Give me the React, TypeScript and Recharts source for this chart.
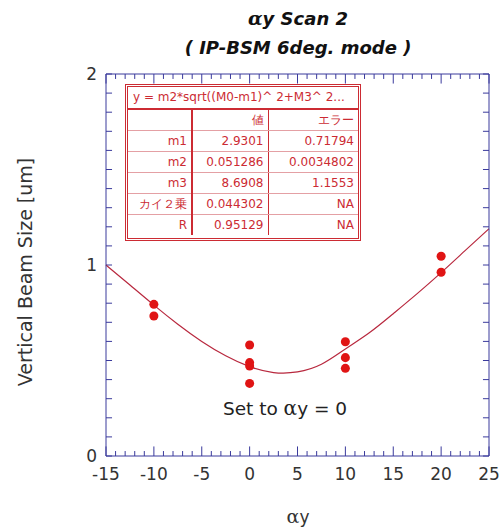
import React from 'react';
import { ComposedChart, XAxis, YAxis, Line, Scatter, ReferenceLine } from 'recharts';

// fitted curve
const CURVE_X = [-15, -12.5, -10, -7.5, -5, -2.5, 0, 2.5, 5, 7.5, 10, 12.5, 15, 17.5, 20, 22.5, 25];
const CURVE_Y = [1.0, 0.895, 0.79, 0.69, 0.6, 0.525, 0.468, 0.437, 0.44, 0.48, 0.56, 0.645, 0.745, 0.85, 0.96, 1.075, 1.19];

// measured points
const SCAN_X = [-10, -10, 0, 0, 0, 0, 10, 10, 10, 20, 20];
const SCAN_Y = [0.794, 0.733, 0.581, 0.489, 0.471, 0.38, 0.598, 0.515, 0.459, 1.046, 0.962];

const X_MAJOR = [-15, -10, -5, 0, 5, 10, 15, 20, 25];
const X_MINOR = Array.from({ length: 41 }, (_, i) => i - 15);
const Y_MAJOR = [0, 1, 2];
const Y_TICKS = Array.from({ length: 21 }, (_, i) => i / 10);

const FIT_FORMULA = 'y = m2*sqrt((M0-m1)^ 2+M3^ 2...';
const COL_HEADERS = ['', '値', 'エラー'];
const PARAM_NAMES = ['m1', 'm2', 'm3', 'カイ２乗', 'R'];
const PARAM_VALUES = ['2.9301', '0.051286', '8.6908', '0.044302', '0.95129'];
const PARAM_ERRORS = ['0.71794', '0.0034802', '1.1553', 'NA', 'NA'];

const curveData = CURVE_X.map((x, i) => ({ x, y: CURVE_Y[i] }));
const scanData = SCAN_X.map((x, i) => ({ x, y: SCAN_Y[i] }));

const AXIS = '#3a3a9c';
const TEXT = '#333';
const RED = '#cc2b33';
const FONT = '"DejaVu Sans", Verdana, sans-serif';
const tickFont = { fill: TEXT, fontSize: 17, fontFamily: FONT };
const noLabel = () => '';

// inward tick lengths, in data units
const X_TICK_MAJOR = 0.05;
const X_TICK_MINOR = 0.026;
const Y_TICK = 0.63;

const cell: React.CSSProperties = {
  textAlign: 'right',
  padding: '0 4px 0 0',
  borderBottom: '1px solid #e4a0a4',
  height: 20,
  lineHeight: '20px',
  whiteSpace: 'nowrap',
};

const FitTable = () => (
  <div
    style={{
      position: 'absolute',
      left: 125,
      top: 84,
      width: 236,
      height: 157,
      boxSizing: 'border-box',
      border: `3px double ${RED}`,
      background: '#fff',
      color: RED,
      fontFamily: FONT,
      fontSize: 12,
    }}
  >
    <div
      style={{
        height: 21,
        lineHeight: '21px',
        paddingLeft: 5,
        borderBottom: `2px solid ${RED}`,
        whiteSpace: 'nowrap',
        overflow: 'hidden',
      }}
    >
      {FIT_FORMULA}
    </div>
    <table style={{ borderCollapse: 'collapse', width: '100%', tableLayout: 'fixed' }}>
      <colgroup>
        <col style={{ width: 64 }} />
        <col style={{ width: 76 }} />
        <col />
      </colgroup>
      <tbody>
        <tr>
          {COL_HEADERS.map((h, i) => (
            <td
              key={i}
              style={{
                ...cell,
                borderRight: i === 0 ? `2px solid ${RED}` : i === 1 ? `1px solid ${RED}` : 'none',
              }}
            >
              {h}
            </td>
          ))}
        </tr>
        {PARAM_NAMES.map((n, r) => (
          <tr key={n}>
            <td style={{ ...cell, borderRight: `2px solid ${RED}`, borderBottom: r === 4 ? 'none' : cell.borderBottom }}>{n}</td>
            <td style={{ ...cell, borderRight: `1px solid ${RED}`, borderBottom: r === 4 ? 'none' : cell.borderBottom }}>{PARAM_VALUES[r]}</td>
            <td style={{ ...cell, borderBottom: r === 4 ? 'none' : cell.borderBottom }}>{PARAM_ERRORS[r]}</td>
          </tr>
        ))}
      </tbody>
    </table>
  </div>
);

const alpha = (size: number) => (
  <span style={{ fontFamily: '"DejaVu Serif", serif', fontSize: size }}>α</span>
);

export default function App() {
  return (
    <div style={{ position: 'absolute', left: 0, top: 0, width: 503, height: 527, background: '#fff', fontFamily: FONT }}>
      <ComposedChart width={503} height={527} margin={{ top: 73, right: 13, bottom: 70, left: 105 }}>
        <XAxis
          xAxisId="b"
          type="number"
          dataKey="x"
          orientation="bottom"
          domain={[-15, 25]}
          ticks={X_MAJOR}
          interval={0}
          height={1}
          tickSize={0}
          tickMargin={12}
          tick={tickFont}
          tickLine={false}
          stroke={AXIS}
        />
        <XAxis
          xAxisId="t"
          type="number"
          dataKey="x"
          orientation="top"
          domain={[-15, 25]}
          ticks={X_MAJOR}
          interval={0}
          height={1}
          tickSize={0}
          tickFormatter={noLabel}
          tickLine={false}
          stroke={AXIS}
        />
        <YAxis
          yAxisId="l"
          type="number"
          dataKey="y"
          orientation="left"
          domain={[0, 2]}
          ticks={Y_MAJOR}
          interval={0}
          width={1}
          tickSize={0}
          tickMargin={9}
          tick={tickFont}
          tickLine={false}
          stroke={AXIS}
        />
        <YAxis
          yAxisId="r"
          type="number"
          dataKey="y"
          orientation="right"
          domain={[0, 2]}
          ticks={Y_MAJOR}
          interval={0}
          width={1}
          tickSize={0}
          tickFormatter={noLabel}
          tickLine={false}
          stroke={AXIS}
        />

        {/* inward ticks on all four sides */}
        {X_MINOR.map((v) => {
          const len = X_MAJOR.includes(v) ? X_TICK_MAJOR : X_TICK_MINOR;
          return (
            <ReferenceLine
              key={`xb${v}`}
              xAxisId="b"
              yAxisId="l"
              segment={[{ x: v, y: 0 }, { x: v, y: len }]}
              stroke={AXIS}
              ifOverflow="visible"
            />
          );
        })}
        {X_MINOR.map((v) => {
          const len = X_MAJOR.includes(v) ? X_TICK_MAJOR : X_TICK_MINOR;
          return (
            <ReferenceLine
              key={`xt${v}`}
              xAxisId="b"
              yAxisId="l"
              segment={[{ x: v, y: 2 }, { x: v, y: 2 - len }]}
              stroke={AXIS}
              ifOverflow="visible"
            />
          );
        })}
        {Y_TICKS.map((v) => (
          <ReferenceLine
            key={`yl${v}`}
            xAxisId="b"
            yAxisId="l"
            segment={[{ x: -15, y: v }, { x: -15 + Y_TICK, y: v }]}
            stroke={AXIS}
            ifOverflow="visible"
          />
        ))}
        {Y_TICKS.map((v) => (
          <ReferenceLine
            key={`yr${v}`}
            xAxisId="b"
            yAxisId="l"
            segment={[{ x: 25, y: v }, { x: 25 - Y_TICK, y: v }]}
            stroke={AXIS}
            ifOverflow="visible"
          />
        ))}

        <Line
          xAxisId="b"
          yAxisId="l"
          data={curveData}
          dataKey="y"
          type="natural"
          stroke="#b8283e"
          strokeWidth={1.2}
          dot={false}
          isAnimationActive={false}
        />
        <Scatter
          xAxisId="t"
          yAxisId="r"
          data={scanData}
          dataKey="y"
          fill="#e01414"
          isAnimationActive={false}
        />
      </ComposedChart>

      <div
        style={{
          position: 'absolute',
          left: 98,
          width: 400,
          top: 4,
          textAlign: 'center',
          fontWeight: 'bold',
          fontStyle: 'italic',
          fontSize: 18,
          lineHeight: '29px',
          color: '#111',
        }}
      >
        <div>{alpha(19)}y Scan 2</div>
        <div>( IP-BSM 6deg. mode )</div>
      </div>

      <FitTable />

      <div
        style={{
          position: 'absolute',
          left: 160,
          width: 250,
          top: 396,
          textAlign: 'center',
          fontSize: 18.5,
          color: '#222',
        }}
      >
        Set to {alpha(20)}y = 0
      </div>

      <div
        style={{
          position: 'absolute',
          left: 198,
          width: 200,
          top: 505,
          textAlign: 'center',
          fontSize: 17,
          color: TEXT,
        }}
      >
        {alpha(19)}y
      </div>

      <div
        style={{
          position: 'absolute',
          left: 25,
          top: 272,
          transform: 'translate(-50%, -50%) rotate(-90deg)',
          whiteSpace: 'nowrap',
          fontSize: 19,
          color: TEXT,
        }}
      >
        Vertical Beam Size [um]
      </div>
    </div>
  );
}
